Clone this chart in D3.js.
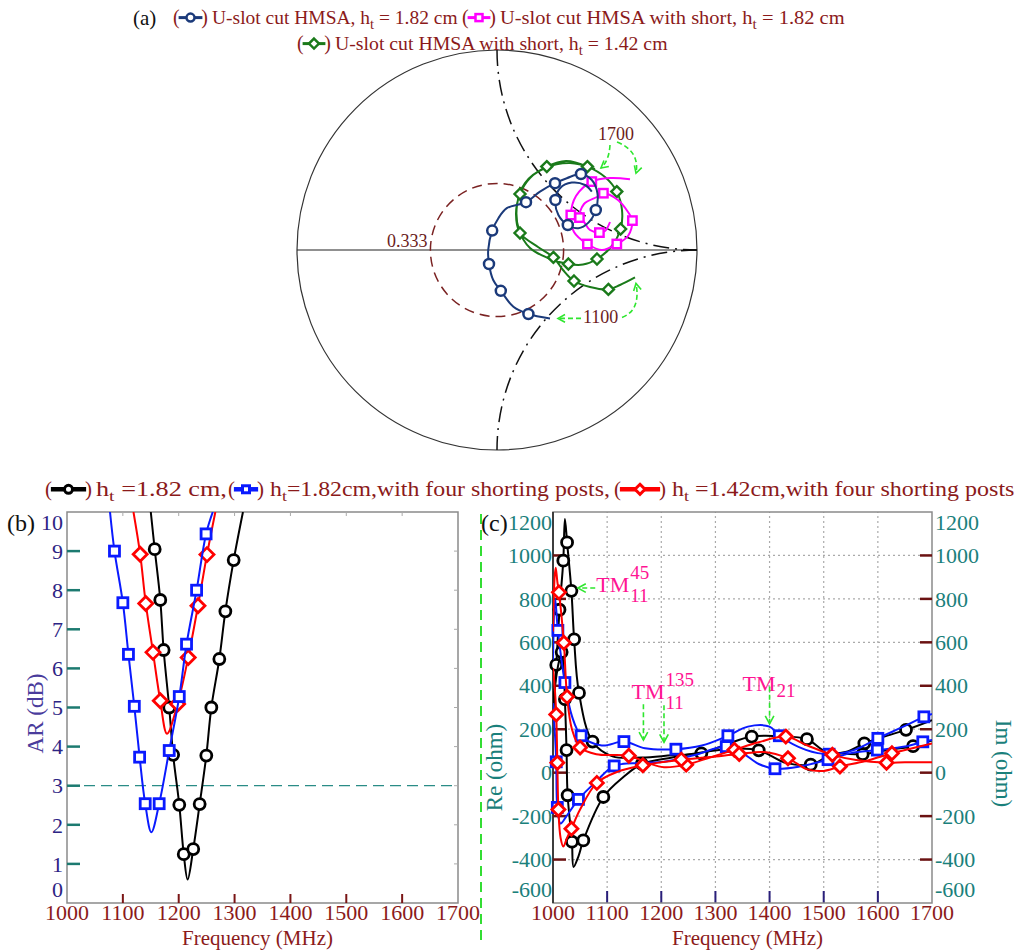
<!DOCTYPE html>
<html><head><meta charset="utf-8">
<script src="https://cdn.jsdelivr.net/npm/d3@7"></script>
<style>body{margin:0;background:#fff}svg{display:block;font-family:"Liberation Serif","Times New Roman",serif}</style>
</head><body><svg id="c" width="1019" height="952" font-family="Liberation Serif, serif"></svg>
<script>
// ---------------- DATA ----------------
// (a) Smith chart, reflection coefficient (real, imag)
const navyRe = [0.265,0.157,0.082,0.019,-0.019,-0.040,-0.044,-0.024,0.007,0.049,0.145,0.215,0.290,0.349,0.420,0.474,0.502,0.494,0.457,0.407,0.354,0.307,0.292,0.315,0.374,0.440,0.474];
const navyIm = [-0.342,-0.320,-0.284,-0.204,-0.150,-0.070,0,0.097,0.159,0.209,0.239,0.292,0.334,0.359,0.380,0.350,0.284,0.200,0.137,0.109,0.125,0.175,0.250,0.309,0.337,0.325,0.292];
const navyMarks = [1,3,5,7,10,12,14,17,20,22];
const greenRe = [0.690,0.615,0.557,0.465,0.385,0.330,0.282,0.205,0.115,0.095,0.115,0.165,0.249,0.345,0.452,0.540,0.599,0.625,0.618,0.570,0.500,0.430,0.357,0.255,0.165,0.110,0.100,0.140,0.240,0.365,0.490];
const greenIm = [-0.137,-0.175,-0.197,-0.185,-0.155,-0.100,-0.037,0.015,0.085,0.180,0.280,0.360,0.417,0.445,0.417,0.365,0.292,0.200,0.105,0.015,-0.045,-0.073,-0.070,-0.040,0.010,0.100,0.225,0.335,0.410,0.435,0.405];
const greenMarks = [2,4,6,8,10,12,14,16,18,20,22];
const magRe = [0.565,0.540,0.512,0.465,0.435,0.412,0.435,0.500,0.532,0.605,0.655,0.677,0.655,0.599,0.525,0.452,0.385,0.369,0.395,0.474,0.565,0.665];
const magIm = [0.140,0.095,0.087,0.100,0.140,0.162,0.230,0.265,0.284,0.250,0.190,0.147,0.070,0.030,0.000,0.030,0.090,0.175,0.270,0.342,0.360,0.354];
const magMarks = [2,5,8,11,13,15,17,19];
const vswrCircle = 0.333;
const smithLabels = ["0.333","1700","1100"];

// (b) Axial ratio
const arBlueF = [1077,1085,1100,1110,1120.5,1130,1140,1151,1165,1183,1201,1214,1232,1249,1261];
const arBlueV = [10,9.0,7.68,6.36,5.03,3.73,2.54,1.81,2.54,3.90,5.28,6.62,8.0,9.44,10];
const arBlueMarks = [1,2,3,4,5,6,8,9,10,11,12,13];
const arRedF = [1119,1131,1141,1154,1167,1179,1198,1217,1234.5,1250.6,1265.6];
const arRedV = [10,8.92,7.66,6.41,5.17,4.33,5.09,6.28,7.6,8.91,10];
const arRedMarks = [1,2,3,4,6,7,8,9];
const arBlackF = [1150,1157,1167,1173,1183,1190,1201,1209,1216,1226,1237.5,1249.4,1258.4,1272.7,1283.5,1298.4,1315];
const arBlackV = [10,9.05,7.75,6.47,5.0,3.79,2.51,1.25,0.6,1.38,2.53,3.77,5.0,6.24,7.46,8.77,10];
const arBlackMarks = [1,2,3,4,5,6,7,9,10,11,12,13,14,15];
const arTicks = [0,1,2,3,4,5,6,7,8,9,10];
const freqTicks = [1000,1100,1200,1300,1400,1500,1600,1700];

// (c) Input impedance (ohm)
const blackReF = [1000,1006,1012,1019,1022,1026,1034,1039,1048,1073,1110,1164,1220,1274,1320,1367,1420,1469,1505,1540,1575,1610,1652,1700];
const blackReV = [250,496,750,976,1168,1060,837,614,367,143,75,70,80,89,130,166,168,154,95,95,135,165,197,242];
const blackReMarks = [1,2,3,5,6,7,8,9,13,15,17,20,22];
const blackImF = [1000,1010,1016,1019,1022,1025,1027,1035,1038,1047,1056,1093,1130,1164,1220,1280,1330,1380,1430,1476,1517,1572,1620,1665,1700];
const blackImV = [330,500,555,500,338,104,-104,-318,-434,-385,-312,-112,-20,40,70,95,110,103,45,37,85,85,105,122,148];
const blackImMarks = [2,4,5,6,7,10,11,13,17,19,21,23];
const blueReF = [1000,1004,1009,1022,1035,1052,1090,1131,1170,1227,1275,1323,1360,1400,1418,1467,1510,1557,1600,1650,1685,1700];
const blueReV = [520,800,655,415,260,170,125,143,112,108,125,170,212,212,170,105,85,105,158,215,257,270];
const blueReMarks = [2,3,5,7,9,11,14,16,18,20];
const blueImF = [1000,1004,1006,1008,1014,1025,1047,1080,1113,1160,1205,1260,1320,1350,1380,1410,1455,1508,1550,1599,1650,1683,1700];
const blueImV = [320,160,50,-160,-234,-200,-123,-40,31,45,50,80,120,90,40,18,28,60,90,104,120,142,150];
const blueImMarks = [2,3,6,8,12,15,17,19,21];
const redReF = [1000,1003,1005,1008,1011,1020,1026,1035,1050,1080,1140,1175,1205,1246,1290,1335,1380,1430,1470,1516,1560,1616,1650,1700];
const redReV = [650,900,943,880,830,598,350,200,116,85,78,45,25,37,70,105,140,166,125,82,58,46,48,48];
const redReMarks = [4,5,6,8,10,13,15,17,19,21];
const redImF = [1000,1003,1006,1008,1010,1014,1019,1026,1034,1050,1081,1120,1166,1200,1237,1290,1344,1390,1434,1470,1500,1530,1580,1626,1660,1700];
const redImV = [480,400,268,46,-170,-300,-340,-300,-258,-170,-47,5,34,48,60,72,86,95,66,15,8,28,55,89,110,134];
const redImMarks = [2,3,4,8,10,12,14,16,18,21,23];
const zTicks = [-600,-400,-200,0,200,400,600,800,1000,1200];

// ---------------- DRAW ----------------
const svg = d3.select('#c');
svg.append('rect').attr('width',1019).attr('height',952).attr('fill','#fff');
const DR = '#8b1a1a', TEAL = '#1a807b', GREEN_A = '#2ee62e';
const NAVY='#1b3a7a', GRN='#1a7a1a', MAG='#f0f', BLK='#000', BLU='#0a1aff', RED='#ff0000';

function drawMarker(g,type,x,y,s,color,sw){
  if(type==='circle') g.append('circle').attr('cx',x).attr('cy',y).attr('r',s).attr('fill','#fff').attr('stroke',color).attr('stroke-width',sw);
  else if(type==='square') g.append('rect').attr('x',x-s).attr('y',y-s).attr('width',2*s).attr('height',2*s).attr('fill','#fff').attr('stroke',color).attr('stroke-width',sw);
  else g.append('path').attr('d',`M${x},${y-s}L${x+s},${y}L${x},${y+s}L${x-s},${y}Z`).attr('fill','#fff').attr('stroke',color).attr('stroke-width',sw);
}
function series(g,pts,marks,color,type,ms,lw,msw,clip){
  const p = g.append('path').attr('d',d3.line().curve(d3.curveCatmullRom.alpha(0.5))(pts))
    .attr('fill','none').attr('stroke',color).attr('stroke-width',lw);
  if(clip) p.attr('clip-path',`url(#${clip})`);
  marks.forEach(i=>drawMarker(g,type,pts[i][0],pts[i][1],ms,color,msw));
}
function makeRich(parent,x,y,parts,size,color){
  const t = parent.append('text').attr('x',x).attr('y',y).attr('font-size',size+'px').attr('fill',color);
  let shift=0;
  parts.forEach(p=>{
    const s = Array.isArray(p)?p[0]:p, k = Array.isArray(p)?p[1]:null;
    const target = k==='sub'?0.25:(k==='sup'?-0.45:0);
    const ts = t.append('tspan').text(s).attr('dy',((target-shift)*size)+'px');
    if(k) ts.attr('font-size',(size*0.75)+'px');
    shift=target;
  });
  return t;
}
function fitRich(parent,x,y,parts,size,color,width){
  const g = parent.append('g');
  const t = makeRich(g,0,0,parts,size,color);
  const w = t.node().getBBox().width;
  g.attr('transform',`translate(${x},${y}) scale(${width/w},1)`);
  return g;
}
function arrowHead(g,x,y,ang,len,color){
  const a1=ang+Math.PI-0.5, a2=ang+Math.PI+0.5;
  g.append('path').attr('d',`M${x+len*Math.cos(a1)},${y+len*Math.sin(a1)}L${x},${y}L${x+len*Math.cos(a2)},${y+len*Math.sin(a2)}`)
   .attr('fill','none').attr('stroke',color).attr('stroke-width',1.6);
}
function legendSym(g,x,y,w,color,type,lw,ms,msw,fs){
  g.append('text').attr('x',x).attr('y',y).attr('font-size',fs+'px').attr('fill',DR).text('(');
  g.append('text').attr('x',x+w).attr('y',y).attr('font-size',fs+'px').attr('fill',DR).attr('text-anchor','end').text(')');
  const cy = y-fs*0.32;
  g.append('line').attr('x1',x+fs*0.28).attr('x2',x+w-fs*0.28).attr('y1',cy).attr('y2',cy).attr('stroke',color).attr('stroke-width',lw);
  drawMarker(g,type,x+w/2,cy,ms,color,msw);
}

// ---- (a) Smith chart ----
const sx = d3.scaleLinear().domain([-1,1]).range([297,697]);
const sy = d3.scaleLinear().domain([-1,1]).range([450,50]);
const R = sx(1)-sx(0);
const ga = svg.append('g');
ga.append('circle').attr('cx',sx(0)).attr('cy',sy(0)).attr('r',R).attr('fill','none').attr('stroke','#333').attr('stroke-width',1.2);
ga.append('line').attr('x1',sx(-1)).attr('x2',sx(1)).attr('y1',sy(0)).attr('y2',sy(0)).attr('stroke','#222').attr('stroke-width',1.2);
ga.append('path').attr('d',`M${sx(0)},${sy(1)} A${R},${R} 0 0 0 ${sx(1)},${sy(0)}`).attr('fill','none').attr('stroke','#111').attr('stroke-width',1.5).attr('stroke-dasharray','16,6,2,6');
ga.append('path').attr('d',`M${sx(1)},${sy(0)} A${R},${R} 0 0 0 ${sx(0)},${sy(-1)}`).attr('fill','none').attr('stroke','#111').attr('stroke-width',1.5).attr('stroke-dasharray','16,6,2,6');
ga.append('circle').attr('cx',sx(0)).attr('cy',sy(0)).attr('r',R*vswrCircle).attr('fill','none').attr('stroke','#7a2222').attr('stroke-width',1.5).attr('stroke-dasharray','10,6');
ga.append('text').attr('x',sx(-vswrCircle)-3).attr('y',sy(0)-3).attr('text-anchor','end').attr('font-size','18px').attr('fill','#6b1c1c').text(smithLabels[0]);

const gPts = greenRe.map((r,i)=>[sx(r),sy(greenIm[i])]);
const nPts = navyRe.map((r,i)=>[sx(r),sy(navyIm[i])]);
const mPts = magRe.map((r,i)=>[sx(r),sy(magIm[i])]);
series(ga,gPts,greenMarks,GRN,'diamond',5.5,2,2.4);
series(ga,mPts,magMarks,MAG,'square',4.2,2,2.4);
series(ga,nPts,navyMarks,NAVY,'circle',5,2,2.5);

// 1100 / 1700 annotations
const n0 = nPts[0], g0 = gPts[0], gEnd = gPts[gPts.length-1], mEnd = mPts[mPts.length-1];
ga.append('text').attr('x',n0[0]+33).attr('y',n0[1]+5).attr('font-size','18px').attr('fill','#6b1c1c').text(smithLabels[2]);
ga.append('path').attr('d',`M${n0[0]+31},${n0[1]}L${n0[0]+8},${n0[1]}`).attr('stroke',GREEN_A).attr('stroke-width',1.6).attr('stroke-dasharray','5,3').attr('fill','none');
arrowHead(ga,n0[0]+8,n0[1],Math.PI,8,GREEN_A);
ga.append('path').attr('d',`M${n0[0]+72},${n0[1]-1} Q${g0[0]+6},${n0[1]-8} ${g0[0]+1},${g0[1]+6}`).attr('stroke',GREEN_A).attr('stroke-width',1.6).attr('stroke-dasharray','5,3').attr('fill','none');
arrowHead(ga,g0[0]+1,g0[1]+6,-Math.PI/2-0.2,8,GREEN_A);
ga.append('text').attr('x',gEnd[0]+3).attr('y',gEnd[1]-29).attr('font-size','18px').attr('fill','#6b1c1c').text(smithLabels[1]);
ga.append('path').attr('d',`M${gEnd[0]+15},${gEnd[1]-24} Q${gEnd[0]+14},${gEnd[1]-8} ${gEnd[0]+6},${gEnd[1]-1}`).attr('stroke',GREEN_A).attr('stroke-width',1.6).attr('stroke-dasharray','5,3').attr('fill','none');
arrowHead(ga,gEnd[0]+6,gEnd[1]-1,Math.PI*0.78,8,GREEN_A);
ga.append('path').attr('d',`M${gEnd[0]+22},${gEnd[1]-27} Q${mEnd[0]+10},${mEnd[1]-28} ${mEnd[0]+6},${mEnd[1]-6}`).attr('stroke',GREEN_A).attr('stroke-width',1.6).attr('stroke-dasharray','5,3').attr('fill','none');
arrowHead(ga,mEnd[0]+6,mEnd[1]-6,Math.PI/2+0.3,8,GREEN_A);

// legend (a)
svg.append('text').attr('x',133).attr('y',25).attr('font-size','21px').attr('fill','#111').text('(a)');
legendSym(svg,173,24,35,NAVY,'circle',3,4,2.5,20);
fitRich(svg,212,24,['U-slot cut HMSA, h',['t','sub'],' = 1.82 cm'],19,DR,246);
legendSym(svg,462,24,34,MAG,'square',3,3.5,2.5,20);
fitRich(svg,500,24,['U-slot cut HMSA with short, h',['t','sub'],' = 1.82 cm'],19,DR,345);
legendSym(svg,297,50,34,GRN,'diamond',3,5,2.5,20);
fitRich(svg,335,50,['U-slot cut HMSA with short, h',['t','sub'],' = 1.42 cm'],19,DR,333);

// legend (b)/(c)
legendSym(svg,45,496,47,BLK,'circle',4.5,4,3,21);
fitRich(svg,96,496,['h',['t','sub'],' =1.82 cm,'],20,DR,131);
legendSym(svg,228,496,36,BLU,'square',4.5,3.5,3,21);
fitRich(svg,270,496,['h',['t','sub'],'=1.82cm,with four shorting posts,'],20,DR,340);
legendSym(svg,614,496,52,RED,'diamond',4.5,5,3,21);
fitRich(svg,672,496,['h',['t','sub'],' =1.42cm,with four shorting posts'],20,DR,343);

// green dashed separator
svg.append('line').attr('x1',481).attr('x2',481).attr('y1',514).attr('y2',946).attr('stroke','#33dd33').attr('stroke-width',2).attr('stroke-dasharray','10,6');

// ---- (b) AR plot ----
const xb = d3.scaleLinear().domain([1000,1700]).range([67,458]);
const yb = d3.scaleLinear().domain([0,10]).range([903,512]);
const gb = svg.append('g');
svg.append('defs').html(`<clipPath id="cb"><rect x="67" y="512" width="391" height="391"/></clipPath><clipPath id="cc"><rect x="553" y="512" width="379" height="391"/></clipPath>`);
gb.append('rect').attr('x',xb(1000)).attr('y',yb(10)).attr('width',xb(1700)-xb(1000)).attr('height',yb(0)-yb(10)).attr('fill','none').attr('stroke','#8a8a8a').attr('stroke-width',1.5);
gb.append('line').attr('x1',xb(1000)).attr('x2',xb(1700)).attr('y1',yb(3)).attr('y2',yb(3)).attr('stroke','#2a8c86').attr('stroke-width',1.3).attr('stroke-dasharray','11,6');
arTicks.slice(1,10).forEach(v=>{
  gb.append('line').attr('x1',xb(1000)).attr('x2',xb(1000)+13).attr('y1',yb(v)).attr('y2',yb(v)).attr('stroke','#1c7a70').attr('stroke-width',2.5);
  gb.append('line').attr('x1',xb(1700)).attr('x2',xb(1700)-4).attr('y1',yb(v)).attr('y2',yb(v)).attr('stroke','#aaa').attr('stroke-width',1);
});
freqTicks.slice(1,7).forEach(f=>{
  gb.append('line').attr('x1',xb(f)).attr('x2',xb(f)).attr('y1',yb(0)).attr('y2',yb(0)-9).attr('stroke','#7a1515').attr('stroke-width',2);
  gb.append('line').attr('x1',xb(f)).attr('x2',xb(f)).attr('y1',yb(10)).attr('y2',yb(10)+4).attr('stroke','#aaa').attr('stroke-width',1);
});
arTicks.forEach(v=>{
  const dy = v===10?10:(v===0?-14:0);
  gb.append('text').attr('x',xb(1000)-4).attr('y',yb(v)+dy).attr('dy','0.35em').attr('text-anchor','end').attr('font-size','22px').attr('fill','#2d2484').text(v);
});
freqTicks.forEach(f=>{
  gb.append('text').attr('x',xb(f)).attr('y',919.5).attr('text-anchor','middle').attr('font-size','22px').attr('fill',DR).text(f);
});
gb.append('text').attr('x',(xb(1000)+xb(1700))/2-5).attr('y',944.5).attr('text-anchor','middle').attr('font-size','21px').attr('fill',DR).text('Frequency (MHz)');
gb.append('text').attr('transform',`translate(43,${(yb(0)+yb(10))/2+6}) rotate(-90)`).attr('text-anchor','middle').attr('font-size','23px').attr('fill','#4a3c9c').text('AR (dB)');
svg.append('text').attr('x',7).attr('y',531).attr('font-size','24px').attr('fill','#111').text('(b)');

series(gb,arBlackF.map((f,i)=>[xb(f),yb(arBlackV[i])]),arBlackMarks,BLK,'circle',5.5,2,2.8,'cb');
series(gb,arRedF.map((f,i)=>[xb(f),yb(arRedV[i])]),arRedMarks,RED,'diamond',7,2,2.8,'cb');
series(gb,arBlueF.map((f,i)=>[xb(f),yb(arBlueV[i])]),arBlueMarks,BLU,'square',5,2,2.8,'cb');

// ---- (c) impedance plot ----
const xc = d3.scaleLinear().domain([1000,1700]).range([553,932]);
const yc = d3.scaleLinear().domain([-600,1200]).range([903,512]);
const gc = svg.append('g');
zTicks.slice(1,9).forEach(v=>{
  gc.append('line').attr('x1',xc(1000)).attr('x2',xc(1700)).attr('y1',yc(v)).attr('y2',yc(v)).attr('stroke','#aaa').attr('stroke-width',1.2).attr('stroke-dasharray','2,3');
});
freqTicks.slice(1,7).forEach(f=>{
  gc.append('line').attr('x1',xc(f)).attr('x2',xc(f)).attr('y1',yc(-600)).attr('y2',yc(1200)).attr('stroke','#aaa').attr('stroke-width',1.2).attr('stroke-dasharray','2,3');
  gc.append('line').attr('x1',xc(f)).attr('x2',xc(f)).attr('y1',yc(-600)).attr('y2',yc(-600)-12).attr('stroke','#2a1f7a').attr('stroke-width',2);
});
gc.append('rect').attr('x',xc(1000)).attr('y',yc(1200)).attr('width',xc(1700)-xc(1000)).attr('height',yc(-600)-yc(1200)).attr('fill','none').attr('stroke','#8a8a8a').attr('stroke-width',1.5);
gc.append('line').attr('x1',xc(1000)).attr('x2',xc(1000)).attr('y1',yc(1200)).attr('y2',yc(-600)).attr('stroke','#333').attr('stroke-width',1.8);
zTicks.slice(1,9).forEach(v=>{
  gc.append('line').attr('x1',xc(1000)).attr('x2',xc(1000)+13).attr('y1',yc(v)).attr('y2',yc(v)).attr('stroke','#6b1212').attr('stroke-width',2.5);
  gc.append('line').attr('x1',xc(1700)).attr('x2',xc(1700)-12).attr('y1',yc(v)).attr('y2',yc(v)).attr('stroke','#6b1212').attr('stroke-width',2.5);
});
zTicks.forEach(v=>{
  const dy = v===1200?10:(v===-600?-14:0);
  gc.append('text').attr('x',xc(1000)-1).attr('y',yc(v)+dy).attr('dy','0.35em').attr('text-anchor','end').attr('font-size','22px').attr('fill',TEAL).text(v);
  gc.append('text').attr('x',xc(1700)+3).attr('y',yc(v)+dy).attr('dy','0.35em').attr('font-size','22px').attr('fill',TEAL).text(v);
});
freqTicks.forEach(f=>{
  gc.append('text').attr('x',xc(f)).attr('y',919.5).attr('text-anchor','middle').attr('font-size','22px').attr('fill',DR).text(f);
});
gc.append('text').attr('x',(xc(1000)+xc(1700))/2+5).attr('y',944.5).attr('text-anchor','middle').attr('font-size','21px').attr('fill',DR).text('Frequency (MHz)');
gc.append('text').attr('transform',`translate(502,${(yc(-600)+yc(1200))/2+60}) rotate(-90)`).attr('text-anchor','middle').attr('font-size','23px').attr('fill',TEAL).text('Re (ohm)');
gc.append('text').attr('transform',`translate(996,${(yc(-600)+yc(1200))/2+56}) rotate(90)`).attr('text-anchor','middle').attr('font-size','23px').attr('fill',TEAL).text('Im (ohm)');
svg.append('text').attr('x',481).attr('y',531).attr('font-size','24px').attr('fill','#111').text('(c)');

const P = (F,V)=>F.map((f,i)=>[xc(f),yc(V[i])]);
series(gc,P(blackReF,blackReV),blackReMarks,BLK,'circle',5.5,2,2.8,'cc');
series(gc,P(blackImF,blackImV),blackImMarks,BLK,'circle',5.5,2,2.8,'cc');
series(gc,P(blueReF,blueReV),blueReMarks,BLU,'square',5,2,2.8,'cc');
series(gc,P(blueImF,blueImV),blueImMarks,BLU,'square',5,2,2.8,'cc');
series(gc,P(redReF,redReV),redReMarks,RED,'diamond',6.5,2,2.8,'cc');
series(gc,P(redImF,redImV),redImMarks,RED,'diamond',6.5,2,2.8,'cc');

// mode annotations
const PINK = '#ff1493';
function tmLabel(x,y,sup,sub){
  const t = gc.append('text').attr('x',x).attr('y',y).attr('font-size','22px').attr('fill',PINK).text('TM');
  const w = t.node().getComputedTextLength();
  if(sup) gc.append('text').attr('x',x+w+1).attr('y',y-13).attr('font-size','19px').attr('fill',PINK).text(sup);
  if(sub) gc.append('text').attr('x',x+w+1).attr('y',y+(sup?10:6)).attr('font-size','19px').attr('fill',PINK).text(sub);
}
function vArrow(x,y1,y2){
  gc.append('line').attr('x1',x).attr('x2',x).attr('y1',y1).attr('y2',y2).attr('stroke',GREEN_A).attr('stroke-width',1.6).attr('stroke-dasharray','5,3');
  arrowHead(gc,x,y2,Math.PI/2,9,GREEN_A);
}
tmLabel(xc(1080),yc(830),'45','11');
gc.append('line').attr('x1',xc(1078)).attr('x2',xc(1046)).attr('y1',yc(850)).attr('y2',yc(850)).attr('stroke',GREEN_A).attr('stroke-width',1.6).attr('stroke-dasharray','5,3');
arrowHead(gc,xc(1046),yc(850),Math.PI,9,GREEN_A);
tmLabel(xc(1145),yc(340),'135','11');
vArrow(xc(1167),yc(315),yc(150));
vArrow(xc(1205),yc(310),yc(140));
tmLabel(xc(1350),yc(375),null,'21');
vArrow(xc(1400),yc(395),yc(225));
</script></body></html>
